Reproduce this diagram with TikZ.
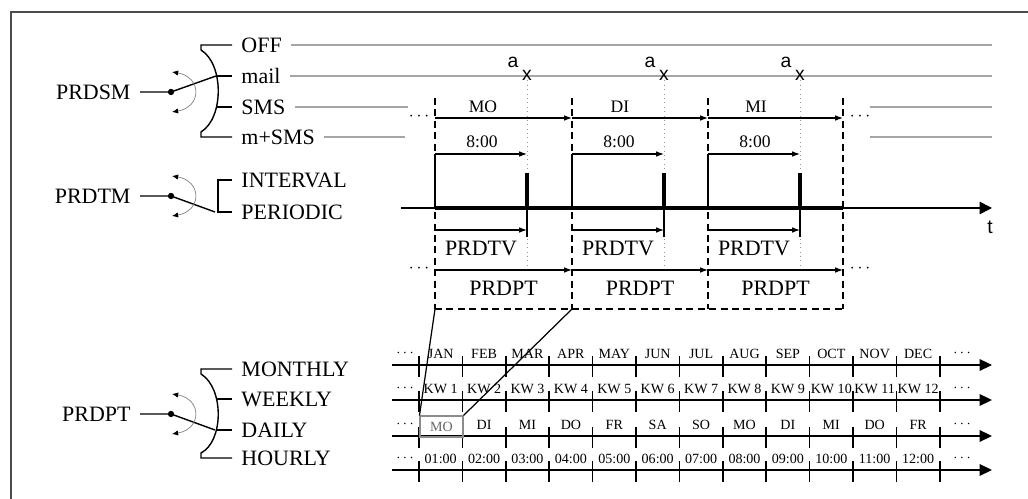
\documentclass[tikz,border=0pt]{standalone}
\usepackage{fontspec}
\setmainfont{Liberation Serif}
\newfontfamily\lblsans{Liberation Sans}
\usetikzlibrary{arrows.meta,calc}

\tikzset{
  optlbl/.style={font=\fontsize{12.5}{15}\selectfont, inner ysep=0pt, inner xsep=5pt},
  midlbl/.style={font=\fontsize{10}{12}\selectfont, inner sep=0pt},
  scalelbl/.style={font=\fontsize{8}{9}\selectfont, inner sep=0pt},
  sanslbl/.style={font=\lblsans\fontsize{11}{13}\selectfont, inner sep=0pt},
  optline/.style={black!35, line width=0.9pt},
  span/.style={-{Latex[length=4.5pt,width=3.2pt]}, line width=0.6pt},
  daybound/.style={dash pattern=on 4pt off 2.5pt, line width=0.8pt},
  evtline/.style={black!40, dotted, line width=0.5pt},
  swarc/.style={black!50, line width=0.4pt, {Latex[length=3.5pt,width=3pt,color=black]}-{Latex[length=3.5pt,width=3pt,color=black]}},
  scaleaxis/.style={-{Triangle[length=7pt,width=6.5pt]}, line width=1pt},
  scaletick/.style={line width=1pt},
}

\begin{document}
\begin{tikzpicture}[x=0.02cm, y=-0.02cm, line width=0.8pt]
\useasboundingbox (0,0) rectangle (1028,499);

% frame
\draw[black!70, line width=1pt] (11,499) -- (11,12) -- (1028,12);

% switch PRDSM
\node[optlbl, anchor=east] (prdsm) at (140,92) {PRDSM};
\coordinate (smpivot) at (171,92);
\coordinate (smarm) at (216,76);
\node[optlbl, anchor=west] (off)  at (232,45)  {OFF};
\node[optlbl, anchor=west] (mail) at (232,76)  {mail};
\node[optlbl, anchor=west] (sms)  at (232,107) {SMS};
\node[optlbl, anchor=west] (msms) at (232,137) {m+SMS};
\draw (off.west) -- (201,45) -- (201,50) .. controls (224,64) and (224,118) .. (201,132) -- (201,137) -- (msms.west);
\draw (217,76) -- (mail.west);
\draw (217,107) -- (sms.west);
\draw (prdsm.east) -- (smpivot) -- (smarm);

% switch PRDTM
\node[optlbl, anchor=east] (prdtm) at (140,196) {PRDTM};
\coordinate (tmpivot) at (171,196);
\coordinate (tmarm) at (215,212);
\node[optlbl, anchor=west] (interval) at (232,180) {INTERVAL};
\node[optlbl, anchor=west] (periodic) at (232,212) {PERIODIC};
\draw (interval.west) -- (218,180) -- (218,212) -- (periodic.west);
\draw (prdtm.east) -- (tmpivot) -- (tmarm);

% switch PRDPT
\node[optlbl, anchor=east] (prdpt) at (140,414) {PRDPT};
\coordinate (ptpivot) at (171,414);
\coordinate (ptarm) at (215,430);
\node[optlbl, anchor=west] (monthly) at (232,369) {MONTHLY};
\node[optlbl, anchor=west] (weekly)  at (232,399) {WEEKLY};
\node[optlbl, anchor=west] (daily)   at (232,430) {DAILY};
\node[optlbl, anchor=west] (hourly)  at (232,458) {HOURLY};
\draw (monthly.west) -- (201,369) -- (201,374) .. controls (224,388) and (224,441) .. (201,453) -- (201,458) -- (hourly.west);
\draw (217,399) -- (weekly.west);
\draw (217,430) -- (daily.west);
\draw (prdpt.east) -- (ptpivot) -- (ptarm);

\foreach \p in {smpivot,tmpivot,ptpivot} {
  \fill (\p) circle (1.8pt);
  \draw[swarc] ($(\p)+(1,-20)$) .. controls +(30,5) and +(30,-5) .. ($(\p)+(1,20)$);
}

% option lines
\draw[optline] (off.east) -- (992,45);
\draw[optline] (mail.east) -- (992,76);
\draw[optline] (sms.east) -- (408,107);
\draw[optline] (870,107) -- (992,107);
\draw[optline] (msms.east) -- (405,137);
\draw[optline] (870,137) -- (992,137);

% day boundaries
\foreach \x [count=\i from 0] in {435,572,708,843}
  \draw[daybound] (\x,98) -- (\x,309) coordinate (bb\i);
\draw[daybound] (bb0) -- (bb3);

% time axis
\coordinate (axstart) at (401,208);
\coordinate (axend) at (992,208);
\draw[-{Triangle[length=7pt,width=7pt]}] (axstart) -- (axend);
\draw[line width=2.2pt] (435,208) -- (843,208);
\node[sanslbl] (tlbl) at (990,227) {t};

% periods
\foreach \x/\nx/\d [count=\i] in {435/572/MO, 572/708/DI, 708/843/MI} {
  \draw[evtline] (\x+92,76) -- (\x+92,270);
  \node[sanslbl] (xm\i) at (\x+92,75) {x};
  \node[sanslbl] (alb\i) at (\x+78,62) {a};
  \draw[span] (\x,118) -- (\nx,118);
  \node[midlbl] (day\i) at (\x+48,107) {\d};
  \draw[span] (\x,154) -- (\x+92,154);
  \node[midlbl] (hr\i) at (\x+47,142) {8:00};
  \draw (\x,154) -- (\x,208);
  \draw[line width=2pt] (\x+92,173) -- (\x+92,208);
  \draw[line width=1.3pt] (\x+92,208) -- (\x+92,237);
  \draw[span] (\x,230) -- (\x+92,230);
  \node[optlbl, inner xsep=0pt] (prdtv\i) at (\x+46,248) {PRDTV};
  \draw[span] (\x,270) -- (\nx,270);
  \node[optlbl, inner xsep=0pt] (prdptl\i) at ({(\x+\nx)/2},288) {PRDPT};
}
\node[midlbl] (dl1) at (419,117) {$\cdots$};
\node[midlbl] (dr1) at (860,117) {$\cdots$};
\node[midlbl] (dl2) at (419,269) {$\cdots$};
\node[midlbl] (dr2) at (860,269) {$\cdots$};

% scales
\foreach \yy [count=\r] in {365,400,436,470} {
  \draw[scaleaxis] (392,\yy) coordinate (rs\r) -- (992,\yy) coordinate (re\r);
  \foreach \k in {0,...,12}
    \draw[scaletick] ({419+43.4*\k},\yy-9) -- ({419+43.4*\k},\yy+12);
  \node[scalelbl] (lft\r) at (405,\yy-12) {$\cdots$};
  \node[scalelbl] (rgt\r) at (962,\yy-12) {$\cdots$};
}
\foreach \m [count=\k from 0] in {JAN,FEB,MAR,APR,MAY,JUN,JUL,AUG,SEP,OCT,NOV,DEC}
  \node[scalelbl] (mon\k) at ({440.7+43.4*\k},354) {\m};
\foreach \k in {1,...,12}
  \node[scalelbl] (kw\k) at ({440.7+43.4*(\k-1)},389) {KW \k};
\node[scalelbl, draw=black!45, text=black!60, line width=0.6pt, minimum width=0.86cm, minimum height=0.42cm] (mobox) at (441.5,426.5) {MO};
\foreach \d [count=\k from 1] in {DI,MI,DO,FR,SA,SO,MO,DI,MI,DO,FR}
  \node[scalelbl] (wd\k) at ({440.7+43.4*\k},425) {\d};
\foreach \h [count=\k from 0] in {01:00,02:00,03:00,04:00,05:00,06:00,07:00,08:00,09:00,10:00,11:00,12:00}
  \node[scalelbl] (hour\k) at ({440.7+43.4*\k},459) {\h};

% zoom lines
\draw[line width=0.7pt] (bb0) -- (mobox.north west);
\draw[line width=0.7pt] (bb1) -- (mobox.north east);
\end{tikzpicture}
\end{document}
